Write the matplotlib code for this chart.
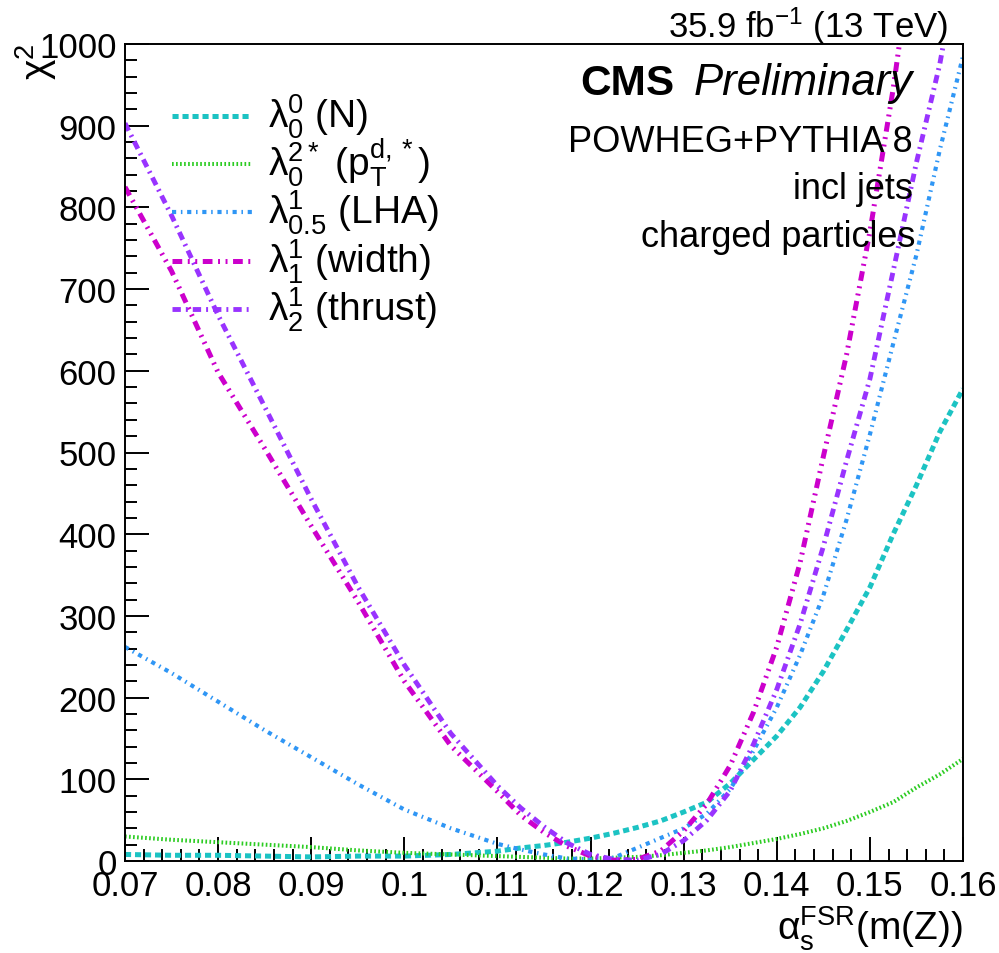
import matplotlib
matplotlib.use("Agg")
import matplotlib.pyplot as plt
from matplotlib.ticker import MultipleLocator, FuncFormatter

plt.rcParams["font.family"] = ["Liberation Sans", "DejaVu Sans"]
plt.rcParams["mathtext.fontset"] = "custom"
plt.rcParams["mathtext.rm"] = "Liberation Sans"
plt.rcParams["mathtext.it"] = "Liberation Sans:italic"
plt.rcParams["mathtext.bf"] = "Liberation Sans:bold"
plt.rcParams["lines.scale_dashes"] = False

# chi2 scan vs alpha_s^FSR(m(Z))
alpha = [0.070, 0.075, 0.080, 0.085, 0.090, 0.095, 0.100, 0.105, 0.110, 0.1125,
         0.115, 0.1175, 0.120, 0.1225, 0.125, 0.1275, 0.130, 0.1325, 0.135, 0.1375,
         0.140, 0.1425, 0.145, 0.1475, 0.150, 0.1525, 0.155, 0.1575, 0.160]

chi2_mult = [8, 7, 7, 6, 5, 6, 6, 8, 12, 16,
             19, 23, 28, 34, 41, 49, 60, 72, 95, 124,
             153, 188, 232, 283, 335, 400, 460, 525, 578]
chi2_ptd = [30, 26, 23, 20, 17, 13, 10, 8, 6, 5,
            4, 3, 3, 4, 5, 7, 10, 13, 17, 22,
            27, 33, 40, 49, 60, 72, 90, 106, 125]
chi2_lha = [262, 230, 195, 160, 127, 94, 63, 40, 21, 14,
            8, 3, 2, 4, 16, 28, 40, 58, 88, 135,
            188, 252, 325, 418, 522, 633, 742, 870, 985]
chi2_width = [825, 722, 598, 505, 410, 318, 220, 141, 85, 56,
              35, 18, 6, 1, 2, 12, 37, 70, 117, 182,
              262, 365, 495, 620, 770, 945, 1150]
chi2_thrust = [903, 790, 668, 556, 443, 336, 240, 156, 92, 65,
               42, 22, 8, 2, 1, 8, 25, 50, 86, 143,
               210, 290, 385, 490, 590, 722, 855, 975, 1130]

labels = [u"\u03bb$_{0}^{0}$ (N)",
          u"\u03bb$_{0}^{\\mathrm{2*}}$ (p$_{\\mathrm{T}}^{\\mathrm{d,*}}$)",
          u"\u03bb$_{0.5}^{1}$ (LHA)",
          u"\u03bb$_{1}^{1}$ (width)",
          u"\u03bb$_{2}^{1}$ (thrust)"]
series = [chi2_mult, chi2_ptd, chi2_lha, chi2_width, chi2_thrust]
colors = ["#1cc3c3", "#2ccc22", "#2f96f5", "#cc00cc", "#9933ff"]
widths = [3.6, 2.9, 3.0, 3.6, 3.5]
styles = [(0, (4.4, 2.8)),
          (0, (1.2, 1.7)),
          (0, (3.0, 3.4, 1.1, 3.4)),
          (0, (7.0, 4.0, 1.4, 4.0, 1.4, 4.0)),
          (0, (6.0, 3.6, 1.4, 3.6))]

W, H = 999, 954
fig = plt.figure(figsize=(W / 100, H / 100), dpi=100)
x0, x1, y0, y1 = 125, 963, 45, 862
ax = fig.add_axes([x0 / W, 1 - y1 / H, (x1 - x0) / W, (y1 - y0) / H])

for vals, c, lw, ls in zip(series, colors, widths, styles):
    ax.plot(alpha[:len(vals)], vals, color=c, lw=lw, linestyle=ls,
            solid_capstyle="butt", dash_capstyle="butt")

ax.set_xlim(0.07, 0.16)
ax.set_ylim(0, 1000)
ax.xaxis.set_major_locator(MultipleLocator(0.01))
ax.xaxis.set_minor_locator(MultipleLocator(0.002))
ax.yaxis.set_major_locator(MultipleLocator(100))
ax.yaxis.set_minor_locator(MultipleLocator(20))
ax.xaxis.set_major_formatter(FuncFormatter(lambda v, p: "%g" % round(v, 3)))
ax.tick_params(which="both", direction="in", top=False, right=False,
               width=1.4, labelsize=25, pad=6)
ax.tick_params(which="major", length=17.5)
ax.tick_params(which="minor", length=8.7)
for s in ax.spines.values():
    s.set_linewidth(1.4)

# legend drawn by hand to match the ROOT layout
rows = [117, 165, 213, 262, 310]
ax_w, ax_h = x1 - x0, y1 - y0
for yr, lab, c, lw, ls in zip(rows, labels, colors, widths, styles):
    fy = (y1 - yr) / ax_h
    ax.plot([(172 - x0) / ax_w, (252 - x0) / ax_w], [fy, fy], transform=ax.transAxes,
            color=c, lw=lw, linestyle=ls, dash_capstyle="butt", clip_on=False)
    ax.text((268 - x0) / ax_w, (y1 - yr - 11) / ax_h, lab, transform=ax.transAxes,
            fontsize=28, ha="left", va="baseline")

fig.text(948 / W, 1 - 38 / H, "35.9 fb$^{-1}$ (13 TeV)", fontsize=25,
         ha="right", va="baseline")
fig.text(580 / W, 1 - 95 / H, "CMS", fontsize=30.5, fontweight="bold",
         ha="left", va="baseline")
fig.text(913 / W, 1 - 95 / H, "Preliminary", fontsize=31.5, style="italic",
         ha="right", va="baseline")
fig.text(913 / W, 1 - 152 / H, "POWHEG+PYTHIA 8", fontsize=26, ha="right", va="baseline")
fig.text(913 / W, 1 - 199 / H, "incl jets", fontsize=26, ha="right", va="baseline")
fig.text(915 / W, 1 - 247 / H, "charged particles", fontsize=26, ha="right", va="baseline")

fig.text(963 / W, 1 - 940 / H, u"\u03b1$_{\\mathrm{s}}^{\\mathrm{FSR}}$(m(Z))",
         fontsize=28, ha="right", va="baseline")
fig.text(36 / W, 1 - 43 / H, u"\u03c7$^{2}$", fontsize=28, rotation=90,
         ha="center", va="top")

fig.savefig("out.png", dpi=100)
